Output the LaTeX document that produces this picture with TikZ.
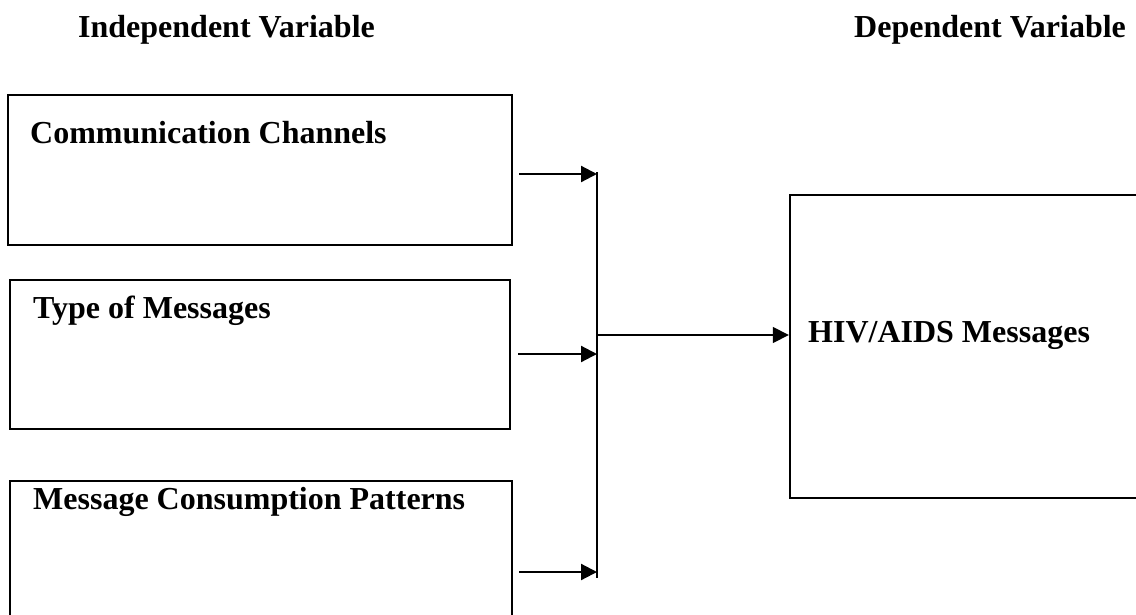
\documentclass[tikz,border=0pt]{standalone}
\usepackage{fontspec}
\setmainfont{Liberation Serif}
\usetikzlibrary{arrows.meta}

\begin{document}
\begin{tikzpicture}
    [x=1pt,y=-1pt,
     every node/.style={inner sep=0pt,font=\fontsize{32}{38}\selectfont\bfseries},
     box/.style={draw,line width=2.4pt,minimum width=#1},
     feed/.style={line width=2.2pt,-{Triangle[length=16pt,width=16pt]}}]
    \useasboundingbox (0,0) rectangle (1136,614);
    \clip (0,0) rectangle (1136,614);

    % headings
    \node[anchor=west] (indep) at (78,30) {Independent Variable};
    \node[anchor=west] (dep) at (854,30) {Dependent Variable};

    % independent variables
    \node[box=504pt,minimum height=150pt] (channels) at (260,170) {};
    \node[box=500pt,minimum height=149pt] (types) at (260,354.5) {};
    \node[box=502pt,minimum height=170pt] (patterns) at (261,566) {};
    \node[anchor=west] (channelstxt) at (30,133) {Communication Channels};
    \node[anchor=west] (typestxt) at (33,311) {Type of Messages};
    \node[anchor=west] (patternstxt) at (33,502) {Message Consumption Patterns};

    % dependent variable
    \node[box=360pt,minimum height=303pt] (hiv) at (970,346.5) {};
    \node[anchor=west] (hivtxt) at (808,335) {HIV/AIDS Messages};

    % joining bar
    \coordinate (bartop) at (597,172);
    \coordinate (barbot) at (597,578);
    \coordinate (join) at (597,335);
    \draw[line width=1.6pt] (bartop) -- (barbot);
    \draw[feed] (channels.east |- 0,174) ++(6,0) -- (597,174);
    \draw[feed] (types.east |- 0,354) ++(7,0) -- (597,354);
    \draw[feed] (patterns.east |- 0,572) ++(6,0) -- (597,572);
    \draw[feed,line width=1.6pt] (join) -- (join -| hiv.west);
\end{tikzpicture}
\end{document}
